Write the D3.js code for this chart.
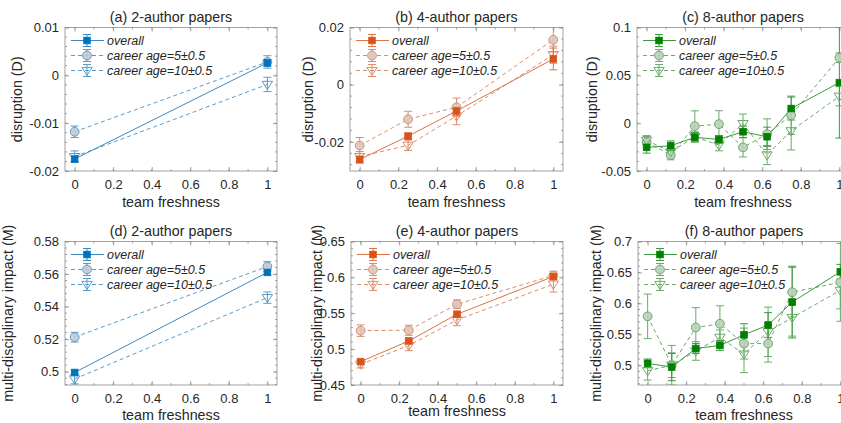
<!DOCTYPE html>
<html><head><meta charset="utf-8">
<script src="https://cdn.jsdelivr.net/npm/d3@7"></script>
<style>body{margin:0;background:#fff} text{font-family:"Liberation Sans",Arial,sans-serif}</style>
</head><body><svg id="c" width="841" height="423"></svg>
<script>
// ---------- data ----------
const xTickValues = [0, 0.2, 0.4, 0.6, 0.8, 1];
const xTickLabels = ["0", "0.2", "0.4", "0.6", "0.8", "1"];
const seriesNames = ["overall", "career age=5\u00B10.5", "career age=10\u00B10.5"];
const panelTitles = ["(a) 2-author papers", "(b) 4-author papers", "(c) 8-author papers",
                     "(d) 2-author papers", "(e) 4-author papers", "(f) 8-author papers"];
const yLabels = ["disruption (D)", "multi-disciplinary impact (M)"];

const fresh2 = [0, 1];
const fresh4 = [0, 0.25, 0.5, 1];
const fresh8 = [0, 0.125, 0.25, 0.375, 0.5, 0.625, 0.75, 1];

// (a) disruption, 2-author
const dA_overall = [-0.0175, 0.0026];   const dA_overallErr = [0.0005, 0.0007];
const dA_age5    = [-0.0118, 0.0028];   const dA_age5Err    = [0.0012, 0.0013];
const dA_age10   = [-0.0170, -0.0019];  const dA_age10Err   = [0.0012, 0.0015];
// (b) disruption, 4-author
const dB_overall = [-0.0262, -0.0180, -0.0092, 0.0090]; const dB_overallErr = [0.0012, 0.0010, 0.0015, 0.0038];
const dB_age5    = [-0.0213, -0.0121, -0.0079, 0.0157]; const dB_age5Err    = [0.0028, 0.0028, 0.0032, 0.0043];
const dB_age10   = [-0.0252, -0.0212, -0.0110, 0.0105]; const dB_age10Err   = [0.0018, 0.0018, 0.0030, 0.0030];
// (c) disruption, 8-author
const dC_overall = [-0.0253, -0.0236, -0.0148, -0.0170, -0.0090, -0.0142, 0.0153, 0.0424];
const dC_overallErr = [0.006, 0.005, 0.005, 0.004, 0.006, 0.010, 0.012, 0.058];
const dC_age5    = [-0.0200, -0.0333, -0.0031, -0.0010, -0.0253, -0.0115, 0.0083, 0.0684];
const dC_age5Err = [0.006, 0.005, 0.016, 0.014, 0.010, 0.016, 0.020, 0.005];
const dC_age10   = [-0.0180, -0.0300, -0.0142, -0.0229, -0.0005, -0.0333, -0.0080, 0.0281];
const dC_age10Err = [0.005, 0.006, 0.005, 0.006, 0.010, 0.010, 0.020, 0.010];
// (d) multi-disciplinary impact, 2-author
const mD_overall = [0.4995, 0.5610]; const mD_overallErr = [0.0012, 0.0015];
const mD_age5    = [0.5212, 0.5646]; const mD_age5Err    = [0.0030, 0.0030];
const mD_age10   = [0.4955, 0.5455]; const mD_age10Err   = [0.0030, 0.0035];
// (e) multi-disciplinary impact, 4-author
const mE_overall = [0.4826, 0.5114, 0.5486, 0.6012]; const mE_overallErr = [0.003, 0.003, 0.004, 0.004];
const mE_age5    = [0.5258, 0.5263, 0.5626, 0.6026]; const mE_age5Err    = [0.008, 0.007, 0.006, 0.006];
const mE_age10   = [0.4788, 0.5049, 0.5407, 0.5905]; const mE_age10Err   = [0.005, 0.007, 0.008, 0.011];
// (f) multi-disciplinary impact, 8-author
const mF_overall = [0.503, 0.497, 0.527, 0.532, 0.549, 0.565, 0.602, 0.651];
const mF_overallErr = [0.007, 0.022, 0.008, 0.008, 0.018, 0.020, 0.058, 0.012];
const mF_age5    = [0.579, 0.500, 0.561, 0.567, 0.535, 0.535, 0.618, 0.634];
const mF_age5Err = [0.036, 0.020, 0.032, 0.029, 0.025, 0.030, 0.040, 0.063];
const mF_age10   = [0.491, 0.500, 0.523, 0.545, 0.518, 0.554, 0.577, 0.621];
const mF_age10Err = [0.015, 0.032, 0.015, 0.012, 0.030, 0.040, 0.030, 0.030];

// y ticks
const yTicksA = [-0.02, -0.01, 0, 0.01];      const yTickLabelsA = ["-0.02", "-0.01", "0", "0.01"];
const yTicksB = [-0.02, 0, 0.02];             const yTickLabelsB = ["-0.02", "0", "0.02"];
const yTicksC = [-0.05, 0, 0.05, 0.1];        const yTickLabelsC = ["-0.05", "0", "0.05", "0.1"];
const yTicksD = [0.5, 0.52, 0.54, 0.56, 0.58]; const yTickLabelsD = ["0.5", "0.52", "0.54", "0.56", "0.58"];
const yTicksE = [0.45, 0.5, 0.55, 0.6, 0.65]; const yTickLabelsE = ["0.45", "0.5", "0.55", "0.6", "0.65"];
const yTicksF = [0.5, 0.55, 0.6, 0.65, 0.7];  const yTickLabelsF = ["0.5", "0.55", "0.6", "0.65", "0.7"];

// ---------- styles / layout ----------
const palettes = {
  blue:   {main: "#0072BD", line: "#3b8ac4", age: "#5a9cc8", circFill: "#c3cbd3"},
  orange: {main: "#D95319", line: "#dc7444", age: "#d98e6c", circFill: "#dcc6bd"},
  green:  {main: "#008000", line: "#3d9a3d", age: "#6aaa6a", circFill: "#bdcfbd"}
};

const panels = [
  {title: panelTitles[0], left: 65, right: 277, top: 27.5, bottom: 171, ydom: [-0.02, 0.01], yt: yTicksA, ytl: yTickLabelsA, ymin: 0.002,
   yl: yLabels[0], ylx: 17, pal: "blue", xs: fresh2, s: [[dA_overall, dA_overallErr], [dA_age5, dA_age5Err], [dA_age10, dA_age10Err]], xlabY: 207},
  {title: panelTitles[1], left: 350, right: 563, top: 27.5, bottom: 171, ydom: [-0.0302, 0.02], yt: yTicksB, ytl: yTickLabelsB, ymin: 0.004,
   yl: yLabels[0], ylx: 308, pal: "orange", xs: fresh4, s: [[dB_overall, dB_overallErr], [dB_age5, dB_age5Err], [dB_age10, dB_age10Err]], xlabY: 207},
  {title: panelTitles[2], left: 637, right: 849, top: 27.5, bottom: 171, ydom: [-0.05, 0.1], yt: yTicksC, ytl: yTickLabelsC, ymin: 0.01,
   yl: yLabels[0], ylx: 592, pal: "green", xs: fresh8, s: [[dC_overall, dC_overallErr], [dC_age5, dC_age5Err], [dC_age10, dC_age10Err]], xlabY: 207},
  {title: panelTitles[3], left: 65, right: 277, top: 241.5, bottom: 385, ydom: [0.4918, 0.58], yt: yTicksD, ytl: yTickLabelsD, ymin: 0.004,
   yl: yLabels[1], ylx: 8, pal: "blue", xs: fresh2, s: [[mD_overall, mD_overallErr], [mD_age5, mD_age5Err], [mD_age10, mD_age10Err]], xlabY: 420},
  {title: panelTitles[4], left: 351, right: 563, top: 241.5, bottom: 385, ydom: [0.45, 0.65], yt: yTicksE, ytl: yTickLabelsE, ymin: 0.01,
   yl: yLabels[1], ylx: 317, pal: "orange", xs: fresh4, s: [[mE_overall, mE_overallErr], [mE_age5, mE_age5Err], [mE_age10, mE_age10Err]], xlabY: 416},
  {title: panelTitles[5], left: 638, right: 850, top: 241.5, bottom: 385, ydom: [0.468, 0.7], yt: yTicksF, ytl: yTickLabelsF, ymin: 0.01,
   yl: yLabels[1], ylx: 596, pal: "green", xs: fresh8, s: [[mF_overall, mF_overallErr], [mF_age5, mF_age5Err], [mF_age10, mF_age10Err]], xlabY: 420}
];

const svg = d3.select("#c");
svg.append("rect").attr("width", 841).attr("height", 423).attr("fill", "#fff");
const defs = svg.append("defs");
const axisColor = "#8a8a8a";
const textColor = "#262626";

function drawMarker(g, kind, cx, cy, pal) {
  const P = palettes[pal];
  if (kind === 0) {
    g.append("rect").attr("x", cx - 3.3).attr("y", cy - 3.3).attr("width", 6.6).attr("height", 6.6)
      .attr("fill", P.main).attr("stroke", P.main).attr("stroke-width", 0.8);
  } else if (kind === 1) {
    g.append("circle").attr("cx", cx).attr("cy", cy).attr("r", 4.4)
      .attr("fill", P.circFill).attr("fill-opacity", 0.9).attr("stroke", P.age).attr("stroke-width", 1);
  } else {
    const s = 5.2;
    g.append("path").attr("d", `M${cx - s},${cy - s * 0.6}L${cx + s},${cy - s * 0.6}L${cx},${cy + s * 0.95}Z`)
      .attr("fill", "none").attr("stroke", P.age).attr("stroke-width", 1);
  }
}

function drawErr(g, cx, y1, y2, color) {
  g.append("line").attr("x1", cx).attr("x2", cx).attr("y1", y1).attr("y2", y2).attr("stroke", color).attr("stroke-width", 1);
  [y1, y2].forEach(yy => g.append("line").attr("x1", cx - 4).attr("x2", cx + 4).attr("y1", yy).attr("y2", yy)
    .attr("stroke", color).attr("stroke-width", 1));
}

panels.forEach((p, pi) => {
  const P = palettes[p.pal];
  const g = svg.append("g");
  const x = d3.scaleLinear().domain([-0.05, 1.05]).range([p.left, p.right]);
  const y = d3.scaleLinear().domain(p.ydom).range([p.bottom, p.top]);
  const cid = "clip" + pi;
  defs.append("clipPath").attr("id", cid).append("rect")
    .attr("x", p.left).attr("y", p.top).attr("width", p.right - p.left).attr("height", p.bottom - p.top);

  // minor ticks
  const xMinor = d3.range(0, 1.0001, 0.1);
  const yMinor = d3.range(Math.ceil(p.ydom[0] / p.ymin - 1e-6) * p.ymin, p.ydom[1] + 1e-9, p.ymin);
  const tg = g.append("g").attr("stroke", axisColor).attr("stroke-width", 0.8);
  xMinor.forEach(v => {
    tg.append("line").attr("x1", x(v)).attr("x2", x(v)).attr("y1", p.bottom).attr("y2", p.bottom - 2);
    tg.append("line").attr("x1", x(v)).attr("x2", x(v)).attr("y1", p.top).attr("y2", p.top + 2);
  });
  yMinor.forEach(v => {
    tg.append("line").attr("x1", p.left).attr("x2", p.left + 2).attr("y1", y(v)).attr("y2", y(v));
    tg.append("line").attr("x1", p.right).attr("x2", p.right - 2).attr("y1", y(v)).attr("y2", y(v));
  });

  // major axes
  const xa = d3.axisBottom(x).tickValues(xTickValues).tickFormat((d, i) => xTickLabels[i])
    .tickSizeInner(-4).tickSizeOuter(0).tickPadding(9);
  const ya = d3.axisLeft(y).tickValues(p.yt).tickFormat((d, i) => p.ytl[i])
    .tickSizeInner(-4).tickSizeOuter(0).tickPadding(6);
  const ax = g.append("g").attr("transform", `translate(0,${p.bottom})`).call(xa);
  const ay = g.append("g").attr("transform", `translate(${p.left},0)`).call(ya);
  const axT = g.append("g").attr("transform", `translate(0,${p.top})`)
    .call(d3.axisTop(x).tickValues(xTickValues).tickFormat("").tickSizeInner(-4).tickSizeOuter(0));
  const ayR = g.append("g").attr("transform", `translate(${p.right},0)`)
    .call(d3.axisRight(y).tickValues(p.yt).tickFormat("").tickSizeInner(-4).tickSizeOuter(0));
  [ax, ay, axT, ayR].forEach(a => {
    a.select(".domain").remove();
    a.selectAll("line").attr("stroke", axisColor).attr("stroke-width", 0.8);
    a.selectAll("text").attr("fill", textColor).attr("font-size", 13)
      .attr("font-family", '"Liberation Sans",Arial,sans-serif');
  });
  g.append("rect").attr("x", p.left).attr("y", p.top).attr("width", p.right - p.left).attr("height", p.bottom - p.top)
    .attr("fill", "none").attr("stroke", axisColor).attr("stroke-width", 0.8);

  // labels
  g.append("text").attr("x", (p.left + p.right) / 2).attr("y", p.top - 6).attr("text-anchor", "middle")
    .attr("font-size", 14.3).attr("fill", textColor).text(p.title);
  g.append("text").attr("x", (p.left + p.right) / 2).attr("y", p.xlabY).attr("text-anchor", "middle")
    .attr("font-size", 14.3).attr("fill", textColor).text("team freshness");
  g.append("text").attr("transform", `translate(${p.ylx + 5},${(p.top + p.bottom) / 2}) rotate(-90)`)
    .attr("text-anchor", "middle").attr("font-size", 14.3).attr("fill", textColor).text(p.yl);

  // data
  const dg = g.append("g").attr("clip-path", `url(#${cid})`);
  const line = d3.line().x(d => x(d[0])).y(d => y(d[1]));
  const order = [1, 2, 0];
  order.forEach(si => {
    const [vals, errs] = p.s[si];
    const color = si === 0 ? P.line : P.age;
    const pts = p.xs.map((xv, i) => [xv, vals[i]]);
    dg.append("path").datum(pts).attr("d", line).attr("fill", "none").attr("stroke", color)
      .attr("stroke-width", 1).attr("stroke-dasharray", si === 0 ? null : "4,3");
    p.xs.forEach((xv, i) => drawErr(dg, x(xv), y(vals[i] - errs[i]), y(vals[i] + errs[i]), color));
  });
  order.forEach(si => {
    const [vals] = p.s[si];
    p.xs.forEach((xv, i) => drawMarker(dg, si, x(xv), y(vals[i]), p.pal));
  });

  // legend
  const lg = g.append("g");
  seriesNames.forEach((name, si) => {
    const ly = p.top + 13 + 15 * si;
    const color = si === 0 ? P.line : P.age;
    lg.append("line").attr("x1", p.left + 6).attr("x2", p.left + 39).attr("y1", ly).attr("y2", ly)
      .attr("stroke", color).attr("stroke-width", 1).attr("stroke-dasharray", si === 0 ? null : "4,3");
    drawErr(lg, p.left + 22, ly - 6, ly + 6, color);
    drawMarker(lg, si, p.left + 22, ly, p.pal);
    lg.append("text").attr("x", p.left + 42).attr("y", ly + 4.5).attr("font-size", 12.5)
      .attr("font-style", "italic").attr("fill", textColor).text(name);
  });
});
</script></body></html>
